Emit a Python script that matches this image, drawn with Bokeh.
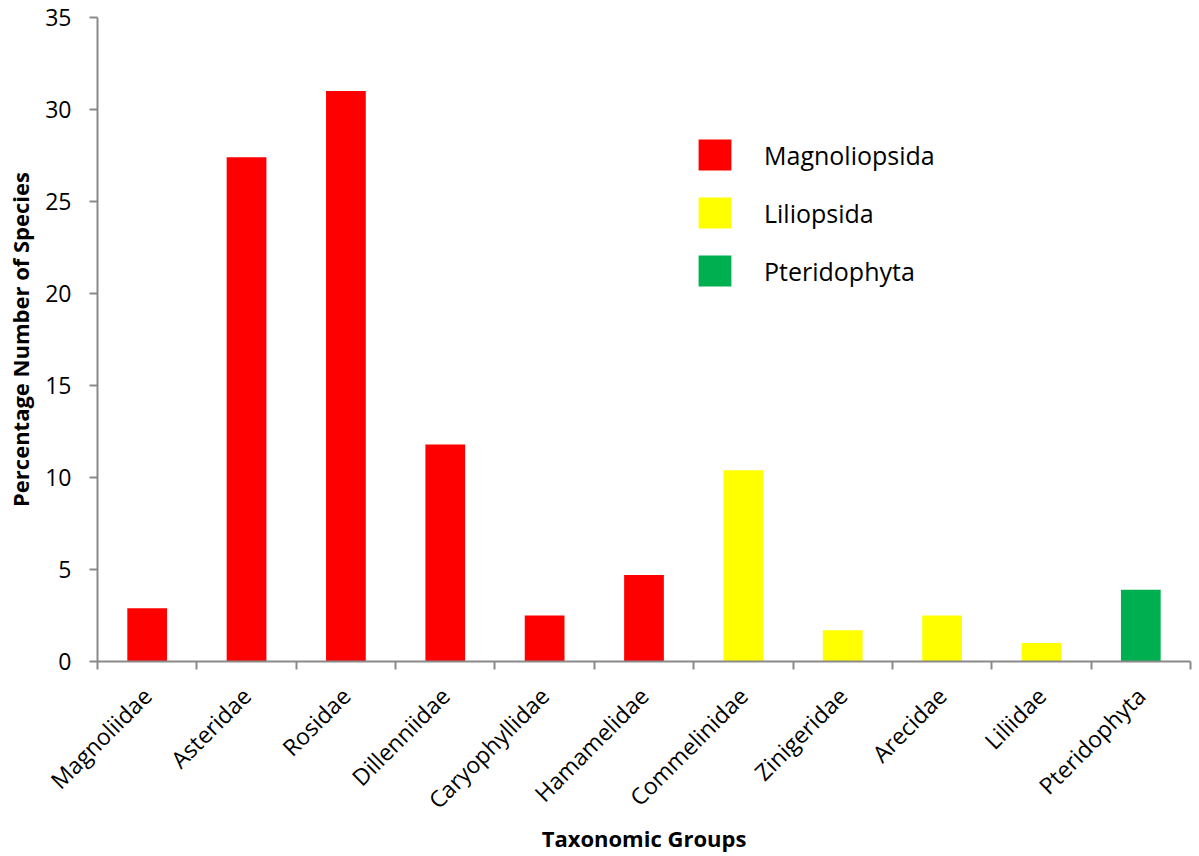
import math
from bokeh.plotting import figure
from bokeh.models import (ColumnDataSource, Range1d, FixedTicker, Legend, LegendItem)
from bokeh.embed import file_html
from bokeh.resources import INLINE

categories = ["Magnoliidae", "Asteridae", "Rosidae", "Dillenniidae", "Caryophyllidae",
              "Hamamelidae", "Commelinidae", "Zinigeridae", "Arecidae", "Liliidae",
              "Pteridophyta"]
values = [2.9, 27.4, 31.0, 11.8, 2.5, 4.7, 10.4, 1.7, 2.5, 1.0, 3.9]
groups = ["Magnoliopsida"] * 6 + ["Liliopsida"] * 4 + ["Pteridophyta"]
group_names = ["Magnoliopsida", "Liliopsida", "Pteridophyta"]
group_colors = {"Magnoliopsida": "#FF0000", "Liliopsida": "#FFFF00", "Pteridophyta": "#00B050"}
yticks = [0, 5, 10, 15, 20, 25, 30, 35]

FONT = "Open Sans"
AXIS_COLOR = "#898989"

centers = [i + 0.5 for i in range(len(categories))]
bounds = list(range(len(categories) + 1))

source = ColumnDataSource(dict(
    x=centers, top=values, cat=categories, group=groups,
    color=[group_colors[g] for g in groups],
))

p = figure(width=1199, height=856, output_backend="svg", toolbar_location=None,
           x_range=Range1d(0, len(categories)), y_range=Range1d(yticks[0], yticks[-1]),
           min_border_left=97, min_border_right=9, min_border_top=17, min_border_bottom=194)
p.outline_line_color = None
p.xgrid.visible = False
p.ygrid.visible = False
p.background_fill_color = "white"
p.border_fill_color = "white"

r = p.vbar(x="x", top="top", width=0.4, bottom=0, source=source,
           fill_color="color", line_color=None)

# x axis: labels at centers, tick marks at category boundaries
xa = p.xaxis[0]
xa.ticker = FixedTicker(ticks=centers, minor_ticks=bounds)
xa.major_label_overrides = {c: name for c, name in zip(centers, categories)}
xa.major_tick_in = 0
xa.major_tick_out = 0
xa.minor_tick_in = 0
xa.minor_tick_out = 8
xa.minor_tick_line_color = AXIS_COLOR
xa.minor_tick_line_width = 2
xa.axis_line_color = AXIS_COLOR
xa.axis_line_width = 2
xa.major_label_orientation = math.pi / 4
xa.major_label_text_font = FONT
xa.major_label_text_font_size = "23px"
xa.major_label_text_color = "black"
xa.major_label_standoff = 22
xa.axis_label = "Taxonomic Groups"
xa.axis_label_text_font = FONT
xa.axis_label_text_font_style = "bold"
xa.axis_label_text_font_size = "22px"
xa.axis_label_text_color = "black"
xa.axis_label_standoff = -6

ya = p.yaxis[0]
ya.ticker = FixedTicker(ticks=yticks, minor_ticks=[])
ya.major_tick_in = 0
ya.major_tick_out = 8
ya.major_tick_line_color = AXIS_COLOR
ya.major_tick_line_width = 2
ya.axis_line_color = AXIS_COLOR
ya.axis_line_width = 2
ya.major_label_text_font = FONT
ya.major_label_text_font_size = "23px"
ya.major_label_text_color = "black"
ya.major_label_standoff = 18
ya.axis_label = "Percentage Number of Species"
ya.axis_label_text_font = FONT
ya.axis_label_text_font_style = "bold"
ya.axis_label_text_font_size = "22px"
ya.axis_label_text_color = "black"
ya.axis_label_standoff = 7

items = [LegendItem(label=g, renderers=[r], index=groups.index(g)) for g in group_names]
legend = Legend(items=items, location=(597, 371), orientation="vertical",
                glyph_width=41, glyph_height=39, spacing=19, label_standoff=29,
                padding=0, margin=0, border_line_color=None, background_fill_alpha=0,
                label_text_font=FONT, label_text_font_size="25px", label_text_color="black")
p.add_layout(legend, "center")

open("out.html", "w").write(file_html(p, INLINE))
